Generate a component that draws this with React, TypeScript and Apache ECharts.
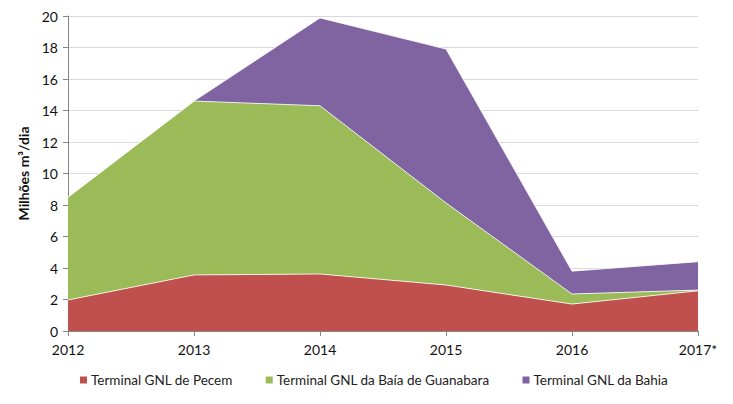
import React, { useEffect, useRef } from "react";
import * as echarts from "echarts";

const categories = ["2012", "2013", "2014", "2015", "2016", "2017*"];
const pecem = [1.97, 3.56, 3.62, 2.92, 1.71, 2.55];
const guanabara = [6.53, 11.04, 10.68, 5.21, 0.64, 0.05];
const bahia = [0, 0, 5.58, 9.77, 1.45, 1.8];
const yTicks = { min: 0, max: 20, interval: 2 };

const FONT = "Lato, 'Open Sans', sans-serif";

export default function App() {
  const ref = useRef<HTMLDivElement>(null);
  useEffect(() => {
    if (!ref.current) return;
    const chart = echarts.init(ref.current, undefined, { renderer: "svg" });
    const mk = (name: string, data: number[], color: string) => ({
      name,
      type: "line",
      stack: "total",
      data,
      symbol: "none",
      lineStyle: { color: "#ffffff", width: 1, opacity: 0.8 },
      areaStyle: { color, opacity: 1 },
      itemStyle: { color },
      emphasis: { disabled: true },
    });
    chart.setOption({
      animation: false,
      textStyle: { fontFamily: FONT },
      grid: { left: 68, right: 35, top: 16, bottom: 73 },
      legend: {
        bottom: 12,
        left: 75,
        itemWidth: 7,
        itemHeight: 7,
        itemGap: 33,
        icon: "rect",
        textStyle: { fontFamily: FONT, fontSize: 13.5, color: "#222", padding: [0, 0, 0, -1] },
        data: [
          "Terminal GNL de Pecem",
          "Terminal GNL da Baía de Guanabara",
          "Terminal GNL da Bahia",
        ],
      },
      xAxis: {
        type: "category",
        data: categories,
        boundaryGap: false,
        axisLine: { lineStyle: { color: "#868686" } },
        axisTick: { show: true, length: 5, lineStyle: { color: "#868686" } },
        axisLabel: { color: "#111", fontSize: 14, margin: 11, fontFamily: FONT },
        splitLine: { show: false },
      },
      yAxis: {
        type: "value",
        min: yTicks.min,
        max: yTicks.max,
        interval: yTicks.interval,
        name: "Milhões m³/dia",
        nameLocation: "middle",
        nameGap: 34,
        nameTextStyle: { fontWeight: "bold", fontSize: 14, color: "#111", fontFamily: FONT },
        axisLine: { show: true, lineStyle: { color: "#868686" } },
        axisTick: { show: true, length: 5, lineStyle: { color: "#868686" } },
        axisLabel: { color: "#111", fontSize: 14, margin: 10, fontFamily: FONT },
        splitLine: { lineStyle: { color: "#d9d9d9" } },
      },
      series: [
        mk("Terminal GNL de Pecem", pecem, "#C0504D"),
        mk("Terminal GNL da Baía de Guanabara", guanabara, "#9BBB59"),
        mk("Terminal GNL da Bahia", bahia, "#8064A2"),
      ],
    });
    return () => chart.dispose();
  }, []);
  return <div ref={ref} style={{ width: 733, height: 404, position: "absolute", left: 0, top: 0 }} />;
}
